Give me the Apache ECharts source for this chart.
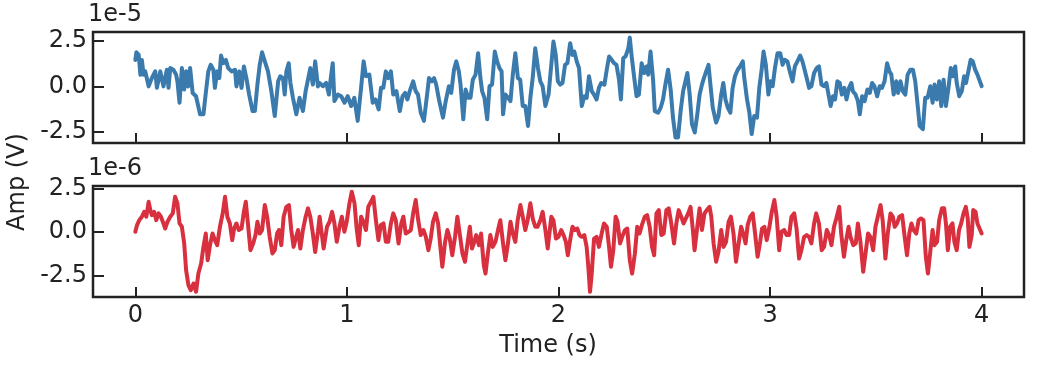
<!DOCTYPE html>
<html>
<head>
<meta charset="utf-8">
<script src="https://cdn.jsdelivr.net/npm/echarts/dist/echarts.min.js"></script>
<style>
html,body{margin:0;padding:0;background:#fff;}
#chart{width:1042px;height:367px;}
</style>
</head>
<body>
<div id="chart"></div>
<script>
// Time ticks (s)
var xTicks = [0, 1, 2, 3, 4];
// Amplitude ticks (in units of the offset exponent)
var yTicks = [-2.5, 0, 2.5];
var topExponent = '1e-5';
var bottomExponent = '1e-6';

// Top channel (x 1e-5 V)
var blueTime = [
0.000,0.005,0.016,0.024,0.031,0.039,0.047,0.063,0.078,0.094,0.102,0.118,0.133,0.149,0.157,0.165,0.180,0.193,0.199,0.209,
0.220,0.231,0.240,0.249,0.259,0.271,0.287,0.306,0.322,0.334,0.345,0.356,0.369,0.376,0.387,0.397,0.405,0.416,0.428,0.439,
0.455,0.471,0.478,0.491,0.502,0.513,0.525,0.538,0.554,0.565,0.577,0.588,0.599,0.612,0.627,0.643,0.659,0.675,0.685,0.698,
0.706,0.714,0.725,0.733,0.745,0.761,0.776,0.792,0.805,0.816,0.827,0.839,0.850,0.863,
0.871,0.886,0.902,0.915,0.922,0.933,0.941,0.957,0.973,0.989,1.004,1.020,1.035,1.051,1.067,1.079,1.090,1.106,1.122,1.135,
1.150,1.161,1.172,1.184,1.195,1.208,1.219,1.234,1.250,1.263,1.275,1.286,1.297,1.313,1.325,1.336,1.349,1.364,1.379,1.388,
1.401,1.412,1.422,1.435,1.454,1.467,1.482,1.493,1.506,1.517,1.529,1.537,1.550,1.561,1.573,1.584,1.595,1.608,1.620,1.631,
1.639,1.650,1.663,1.674,1.686,1.699,1.710,1.721,1.731,1.738,1.749,1.762,1.773,1.784,1.796,1.808,1.819,1.831,1.843,1.856,
1.867,1.878,1.890,1.903,1.914,1.925,1.938,1.953,
1.976,1.987,1.997,2.008,2.019,2.031,2.042,2.055,2.066,2.075,2.086,2.097,2.110,2.122,2.133,2.144,2.157,2.168,2.180,2.191,
2.202,2.217,2.228,2.239,2.251,2.263,2.274,2.286,2.295,2.306,2.317,2.330,2.337,2.345,2.358,2.369,2.380,2.393,2.405,2.416,
2.424,2.435,2.447,2.455,2.471,2.483,2.494,2.505,2.518,2.530,2.541,2.553,2.565,2.578,2.589,2.600,2.609,2.620,2.631,2.644,
2.656,2.667,2.678,2.687,2.698,2.709,2.718,2.729,2.745,2.756,2.769,2.779,2.789,2.800,2.812,2.823,2.834,2.847,2.858,2.871,
2.878,2.891,2.902,2.913,2.925,2.938,2.949,2.960,2.969,2.980,2.992,3.001,3.012,3.023,
3.035,3.048,3.059,3.069,3.082,3.095,3.106,3.117,3.129,3.142,3.153,3.161,3.173,3.184,3.195,3.208,3.220,3.231,3.243,3.254,
3.266,3.274,3.286,3.297,3.307,3.318,3.329,3.339,3.351,3.361,3.373,3.384,3.391,3.404,3.415,3.424,3.435,3.447,3.460,3.471,
3.482,3.493,3.506,3.518,3.529,3.541,3.553,3.564,3.573,3.584,3.596,3.605,3.616,3.627,3.639,3.650,3.663,3.675,3.686,3.697,
3.707,3.722,3.733,3.744,3.757,3.768,3.777,3.788,3.799,3.809,3.820,3.831,3.843,3.854,3.864,3.875,3.882,3.894,3.906,3.917,
3.926,3.937,3.948,3.958,3.969,3.980,4.000
];
var blueAmp = [
1.46,1.88,1.74,0.64,1.46,0.64,0.83,0.00,0.46,0.83,-0.08,0.83,0.00,0.92,-0.08,1.01,0.92,0.64,0.28,-0.90,
1.01,-0.17,0.83,0.00,1.01,-0.36,-0.54,-1.54,-1.54,-0.26,0.83,1.19,0.92,-0.08,0.83,0.46,1.70,1.28,1.46,1.01,
0.83,0.92,0.00,0.83,-0.08,1.10,0.46,-0.45,-1.36,-1.36,0.10,1.19,1.88,1.38,0.83,-0.26,-1.63,0.28,0.56,0.46,
-0.45,0.83,1.28,0.19,-0.63,-1.54,-0.63,-1.36,-0.26,0.37,1.01,0.10,1.38,0.00,
0.19,0.01,0.19,-0.45,0.28,1.28,-0.81,-0.45,-0.54,-0.90,-0.54,-1.08,-0.63,-1.90,-0.08,1.38,0.56,0.65,-0.90,-0.72,
-1.27,-0.08,-0.08,0.83,0.46,0.83,-0.45,-0.26,-1.36,-0.54,-0.36,-0.72,-0.26,0.28,-0.26,-0.45,-1.45,-1.90,-0.45,0.46,
0.28,0.46,0.10,-0.72,-1.72,-0.81,0.01,-0.36,0.92,1.38,0.83,0.10,-1.81,-0.17,-0.63,-0.63,0.37,0.65,1.83,0.46,
-0.26,-0.63,-1.81,0.01,0.10,1.92,1.38,1.01,0.83,-1.54,-0.45,-0.63,-0.81,0.65,1.83,0.46,0.37,-1.08,-1.08,-2.18,
-0.63,0.46,2.10,1.01,0.28,0.01,-1.08,-0.45,
2.47,1.74,0.28,0.10,0.19,1.19,1.28,2.38,1.74,1.92,1.38,1.01,-1.08,-0.54,-0.63,0.56,-0.26,-0.45,-0.72,-0.08,
0.19,0.10,0.92,1.65,1.47,1.28,1.19,0.37,-0.72,1.56,1.65,2.10,2.69,1.74,0.46,-0.54,-0.45,1.28,0.74,1.10,
0.65,1.92,0.37,-1.36,-1.45,-1.17,-0.72,0.10,0.92,-0.17,-1.72,-2.81,-2.81,-1.27,-0.26,0.28,0.74,-0.45,-2.09,-2.54,
-1.54,-0.45,0.10,0.46,0.83,1.19,0.10,-1.17,-1.99,-1.63,-0.45,0.19,-0.72,-1.17,-1.45,-0.08,0.56,0.92,1.10,1.38,
0.46,-0.72,-1.45,-2.63,-1.63,-1.72,-0.08,0.92,1.92,1.19,-0.45,0.28,0.01,1.01,
1.83,1.83,1.19,1.47,1.38,0.74,0.28,1.10,1.38,1.70,1.38,1.47,0.46,-0.08,0.01,0.74,1.01,1.10,0.10,0.01,
0.19,0.28,-1.08,-0.54,-0.72,0.28,0.19,-0.45,-0.08,-0.72,-0.08,0.19,-0.26,-0.45,-0.81,-1.54,-0.54,-0.81,-0.17,-0.36,
0.19,0.01,-0.54,0.01,-0.08,0.28,1.28,0.83,0.65,-0.45,0.28,-0.36,0.28,-0.26,-0.45,0.65,0.92,0.92,0.28,-0.99,
-2.18,-2.36,-0.63,-0.63,0.01,-0.90,0.10,-0.72,0.28,-1.08,0.37,-1.08,-0.08,1.01,0.56,1.10,0.19,-0.54,-0.26,0.56,
0.19,0.83,1.47,1.38,0.92,0.65,0.01
];

// Bottom channel (x 1e-6 V)
var redTime = [
0.000,0.008,0.019,0.031,0.042,0.052,0.063,0.071,0.078,0.089,0.099,0.110,0.121,0.133,0.141,0.152,0.165,0.177,0.188,0.199,
0.209,0.220,0.231,0.240,0.251,0.262,0.275,0.287,0.298,0.311,0.322,0.333,0.342,0.353,0.365,0.376,0.387,0.400,0.413,0.424,
0.435,0.447,0.458,0.467,0.478,0.489,0.502,0.513,0.522,0.533,0.544,0.557,0.568,0.577,0.588,0.599,0.612,0.623,0.635,0.648,
0.659,0.670,0.679,0.690,0.701,0.714,0.726,0.737,0.748,0.758,0.769,0.780,0.792,0.805,0.816,0.827,0.839,0.850,0.863,
0.871,0.890,0.906,0.918,0.930,0.941,0.952,0.965,0.976,0.988,0.999,1.012,1.023,1.036,1.046,1.056,1.067,1.078,1.090,1.101,
1.114,1.125,1.137,1.149,1.160,1.173,1.184,1.195,1.208,1.219,1.231,1.244,1.257,1.267,1.278,1.291,1.302,1.313,1.325,1.337,
1.349,1.362,1.373,1.385,1.396,1.407,1.420,1.431,1.444,1.451,1.464,1.475,1.486,1.498,1.511,1.522,1.534,1.546,1.558,1.571,
1.581,1.591,1.600,1.611,1.624,1.634,1.647,1.655,1.666,1.678,1.689,1.702,1.714,1.725,1.738,1.749,1.760,1.773,1.784,1.796,
1.807,1.820,1.831,1.843,1.854,1.867,1.878,1.890,1.901,1.914,1.925,1.938,1.949,
1.966,1.976,1.988,2.000,2.013,2.024,2.035,2.044,2.055,2.066,2.078,2.089,2.099,2.110,2.122,2.133,2.141,2.149,2.157,2.168,
2.180,2.191,2.204,2.215,2.228,2.239,2.248,2.259,2.270,2.279,2.291,2.301,2.314,2.325,2.337,2.348,2.361,2.372,2.383,2.394,
2.408,2.419,2.431,2.442,2.452,2.463,2.474,2.486,2.497,2.510,2.521,2.533,2.546,2.557,2.568,2.580,2.591,2.602,2.613,2.624,
2.635,2.643,2.656,2.667,2.678,2.690,2.701,2.714,2.722,2.733,2.745,2.756,2.769,2.780,2.792,2.804,2.815,2.827,2.839,2.849,
2.863,2.873,2.884,2.894,2.906,2.918,2.929,2.941,2.953,2.962,2.973,2.984,2.997,3.008,3.020,3.031,
3.043,3.054,3.067,3.078,3.090,3.101,3.114,3.125,3.137,3.148,3.161,3.173,3.184,3.195,3.208,3.218,3.231,3.244,3.255,3.268,
3.279,3.290,3.302,3.313,3.327,3.336,3.349,3.360,3.371,3.380,3.393,3.405,3.415,3.427,3.440,3.451,3.463,3.474,3.487,3.498,
3.509,3.522,3.532,3.545,3.556,3.569,3.580,3.589,3.600,3.611,3.624,3.636,3.647,3.658,3.668,3.678,3.691,3.702,3.713,3.725,
3.736,3.746,3.757,3.768,3.777,3.789,3.799,3.812,3.823,3.831,3.840,3.851,3.862,3.871,3.882,3.893,3.903,3.914,3.925,3.934,
3.942,3.953,3.960,3.971,3.980,4.000
];
var redAmp = [
0.02,0.40,0.69,0.89,1.17,0.89,1.75,1.27,0.98,1.17,0.69,1.08,0.89,0.50,0.21,0.60,0.89,1.08,2.04,1.66,
0.50,0.31,-0.65,-2.19,-3.06,-3.35,-2.96,-3.44,-2.39,-1.81,-0.85,-0.08,-1.62,-0.75,-0.08,-0.46,-0.75,0.31,1.08,2.04,
0.89,0.50,-0.46,0.21,0.50,0.12,0.21,1.17,1.75,0.40,-1.04,-0.65,-0.17,0.60,-0.08,0.12,1.56,0.89,-0.27,-1.23,
-1.04,-0.08,0.12,-0.75,0.89,1.46,1.56,0.12,-0.85,-0.37,0.12,-0.94,0.12,0.89,1.37,0.89,-0.08,-1.14,0.02,
0.89,-0.94,0.31,0.60,1.17,0.50,-0.56,0.31,0.89,0.02,0.60,1.66,2.33,1.66,0.21,-0.75,0.89,0.60,0.12,1.46,
1.75,2.04,0.69,-0.46,0.40,0.50,-0.56,-0.56,0.50,1.08,0.69,-0.65,0.50,0.89,-0.08,0.02,0.12,1.08,1.85,0.69,
-0.17,0.12,-0.27,-1.04,-0.37,0.60,1.08,0.50,-1.14,-2.00,-0.56,0.12,-0.37,-1.33,-0.27,0.89,-0.17,-1.23,-1.71,-0.56,
0.31,-0.94,-0.65,-0.17,-0.75,-0.08,-1.91,-2.39,-1.23,-0.17,-0.85,-0.56,0.12,0.69,-0.65,-1.62,-0.75,0.60,-0.08,-0.56,
0.69,1.56,0.89,0.12,0.69,1.66,0.79,0.31,0.31,0.69,1.17,0.12,-0.94,
0.89,0.69,-0.37,-0.27,0.12,-0.17,-0.56,-1.33,-0.46,0.31,0.12,0.21,-0.17,-0.27,-0.17,-0.85,-2.00,-3.44,-2.39,-0.37,
-0.27,-0.85,-0.08,0.50,0.31,-0.85,-2.00,-1.04,0.89,0.60,-0.65,-0.27,0.12,0.21,-1.62,-2.39,-1.23,0.31,-0.08,0.40,
0.89,0.98,0.31,-0.85,-1.33,1.08,1.27,-0.17,-0.08,1.27,1.37,0.50,-0.65,0.50,1.27,0.89,0.50,0.79,1.08,1.46,
0.12,-1.04,0.31,1.37,0.12,1.08,1.27,1.46,0.89,-0.65,-1.71,-1.14,0.12,-0.85,-0.56,0.60,0.89,-0.08,-1.71,-0.85,
0.31,-0.08,-0.65,0.40,0.89,1.08,-0.08,-1.42,-0.56,0.21,0.31,-0.46,0.31,1.17,1.85,0.89,
-1.04,0.02,0.12,-0.17,-0.17,0.89,1.08,0.21,-1.52,-1.04,-0.27,-0.17,-0.27,-0.65,0.50,1.08,0.50,-1.04,-0.85,0.12,
-0.17,-0.75,0.31,0.79,1.46,-0.08,-1.42,-0.46,0.31,-0.27,-0.75,-0.65,0.50,-0.56,-2.29,-1.23,-0.08,-0.27,-1.04,0.31,
0.89,1.56,0.69,-1.52,-0.08,1.08,0.89,0.31,0.50,0.89,0.98,-0.27,-1.33,-0.08,0.50,0.12,-0.08,0.69,0.79,0.69,
-1.42,-2.39,-1.14,0.12,-0.75,-0.56,0.69,1.37,1.37,0.50,-1.04,0.31,0.50,-0.56,-1.04,0.12,0.50,1.08,1.46,0.79,
-0.85,-0.17,1.27,1.17,0.50,-0.08
];

function pairs(t, v) {
  var n = Math.min(t.length, v.length), out = [];
  for (var i = 0; i < n; i++) out.push([t[i], v[i]]);
  return out;
}

var FONT = 'DejaVu Sans';
var INK = '#222222';
var FS = 24;

function xAxisCfg(idx, showLabels) {
  return {
    gridIndex: idx, type: 'value', min: -0.2, max: 4.2, position: 'bottom',
    axisLine: {show: false, onZero: false},
    splitLine: {show: false},
    axisTick: {show: true, inside: true, length: 10, customValues: xTicks,
               lineStyle: {color: INK, width: 2}},
    axisLabel: {show: showLabels, customValues: xTicks, margin: 7,
                formatter: function (v) { return String(Math.round(v)); },
                fontFamily: FONT, fontSize: FS, color: INK}
  };
}
function yAxisCfg(idx, lo, hi) {
  return {
    gridIndex: idx, type: 'value', min: lo, max: hi, position: 'left',
    axisLine: {show: false, onZero: false},
    splitLine: {show: false},
    axisTick: {show: true, inside: true, length: 11, customValues: yTicks,
               lineStyle: {color: INK, width: 2}},
    axisLabel: {show: true, customValues: yTicks, margin: 6,
                formatter: function (v) { return v.toFixed(1); },
                fontFamily: FONT, fontSize: FS, color: INK}
  };
}

var chart = echarts.init(document.getElementById('chart'), null, {renderer: 'canvas'});
chart.setOption({
  animation: false,
  backgroundColor: '#ffffff',
  grid: [
    {left: 93, top: 32, width: 931, height: 111, show: true, borderColor: INK, borderWidth: 2.5, backgroundColor: 'transparent'},
    {left: 93, top: 186, width: 931, height: 111, show: true, borderColor: INK, borderWidth: 2.5, backgroundColor: 'transparent'}
  ],
  xAxis: [xAxisCfg(0, false), xAxisCfg(1, true)],
  yAxis: [yAxisCfg(0, -3.12, 3.0), yAxisCfg(1, -3.74, 2.66)],
  series: [
    {type: 'line', xAxisIndex: 0, yAxisIndex: 0, data: pairs(blueTime, blueAmp),
     showSymbol: false, symbol: 'none', clip: true,
     lineStyle: {color: '#3a7aac', width: 4, join: 'round', cap: 'round'}},
    {type: 'line', xAxisIndex: 1, yAxisIndex: 1, data: pairs(redTime, redAmp),
     showSymbol: false, symbol: 'none', clip: true,
     lineStyle: {color: '#d8303f', width: 4, join: 'round', cap: 'round'}}
  ],
  graphic: [
    {type: 'text', left: 88, top: 3, style: {text: topExponent, font: FS + 'px "' + FONT + '"', fill: INK}},
    {type: 'text', left: 88, top: 157, style: {text: bottomExponent, font: FS + 'px "' + FONT + '"', fill: INK}},
    {type: 'text', x: 18, y: 182, rotation: Math.PI / 2,
     style: {text: 'Amp (V)', font: FS + 'px "' + FONT + '"', fill: INK, align: 'center', verticalAlign: 'middle'}},
    {type: 'text', x: 548, y: 346,
     style: {text: 'Time (s)', font: FS + 'px "' + FONT + '"', fill: INK, align: 'center', verticalAlign: 'middle'}}
  ]
});
</script>
</body>
</html>
